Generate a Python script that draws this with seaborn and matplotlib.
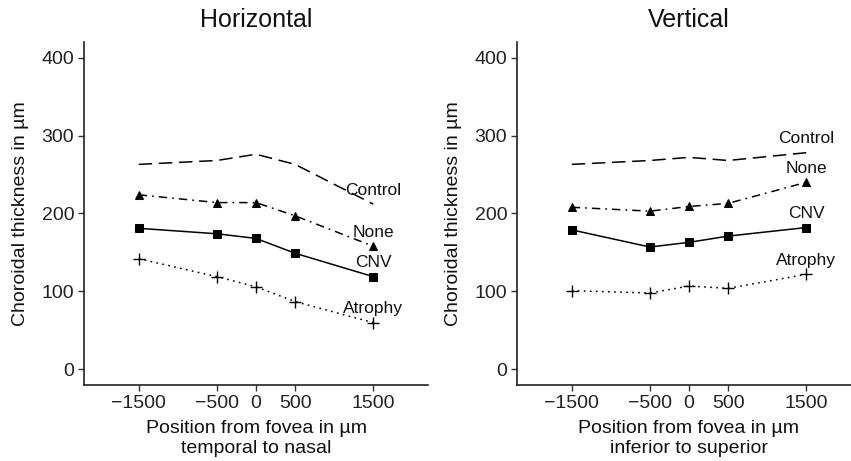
import seaborn as sns
import pandas as pd
import matplotlib as mpl
from matplotlib import pyplot as plt

sns.set_style("ticks")
plt.rcParams['font.family'] = ['Liberation Sans Narrow', 'Liberation Sans', 'DejaVu Sans']

positions = [-1500, -500, 0, 500, 1500]
groups = ['Control', 'None', 'CNV', 'Atrophy']

horizontal = {
    'Control': [263, 268, 276, 263, 212],
    'None':    [224, 214, 214, 197, 158],
    'CNV':     [181, 174, 168, 149, 119],
    'Atrophy': [142, 119, 106, 87, 60],
}
vertical = {
    'Control': [263, 268, 272, 268, 278],
    'None':    [208, 203, 209, 213, 240],
    'CNV':     [179, 157, 163, 171, 182],
    'Atrophy': [101, 98, 107, 104, 122],
}

titles = ['Horizontal', 'Vertical']
xlabels = ['Position from fovea in \u00b5m\ntemporal to nasal',
           'Position from fovea in \u00b5m\ninferior to superior']

styles = {
    'Control': dict(dashes=(8, 4), marker=None),
    'None':    dict(dashes=(5, 3, 1, 3), marker='^', markersize=6),
    'CNV':     dict(dashes=(), marker='s', markersize=5.2),
    'Atrophy': dict(dashes=(1, 2.6), marker='+', markersize=9, markeredgewidth=1.0),
}

fig = plt.figure(figsize=(8.51, 4.61), dpi=100)
axes = [fig.add_axes([84 / 851, 76 / 461, 344 / 851, 343 / 461]),
        fig.add_axes([517 / 851, 76 / 461, 344 / 851, 343 / 461])]

for ax, data, title, xlabel in zip(axes, [horizontal, vertical], titles, xlabels):
    rows = []
    for g in groups:
        for p, v in zip(positions, data[g]):
            rows.append({'pos': p, 'thick': v, 'group': g})
    df = pd.DataFrame(rows)

    for g in groups:
        st = styles[g]
        sub = df[df['group'] == g]
        line_kw = dict(color='black', linewidth=1.1)
        if st['marker'] is not None:
            line_kw['marker'] = st['marker']
            line_kw['markersize'] = st['markersize']
            line_kw['markeredgecolor'] = 'black'
            line_kw['markerfacecolor'] = 'black'
            if 'markeredgewidth' in st:
                line_kw['markeredgewidth'] = st['markeredgewidth']
        sns.lineplot(data=sub, x='pos', y='thick', ax=ax, legend=False, **line_kw)
        ln = ax.get_lines()[-1]
        if st['dashes']:
            ln.set_dashes([d * 1.1 for d in st['dashes']])
        ax.text(positions[-1], data[g][-1] + 18, g, ha='center', va='center',
                fontsize=12.5, color='#111111')

    ax.set_xlim(-2200, 2200)
    ax.set_ylim(-20, 420)
    ax.set_xticks(positions)
    ax.set_xticklabels(['\u22121500', '\u2212500', '0', '500', '1500'])
    ax.set_yticks([0, 100, 200, 300, 400])
    ax.tick_params(labelsize=14, length=4, width=1, color='#333333',
                   labelcolor='#222222', pad=3)
    ax.set_title(title, fontsize=18, pad=11, color='#111111')
    ax.set_xlabel(xlabel, fontsize=14, labelpad=6, color='#111111', linespacing=1.2)
    ax.set_ylabel('Choroidal thickness in \u00b5m', fontsize=14, labelpad=9,
                  color='#111111')
    sns.despine(ax=ax)
    for s in ['left', 'bottom']:
        ax.spines[s].set_linewidth(1.2)
        ax.spines[s].set_color('#222222')
    ax.spines['bottom'].set_clip_on(False)

fig.savefig('out.png', dpi=100)
